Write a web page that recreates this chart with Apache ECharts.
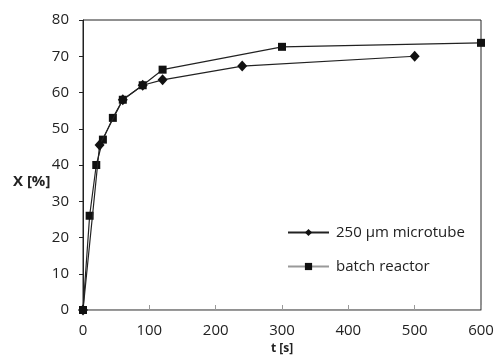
<!DOCTYPE html>
<html>
<head>
<meta charset="utf-8">
<script src="https://cdn.jsdelivr.net/npm/echarts@6/dist/echarts.min.js"></script>
<style>
  html, body { margin: 0; padding: 0; background: #fff; }
  #chart { width: 495px; height: 355px; }
</style>
</head>
<body>
<div id="chart"></div>
<script>
// Conversion X [%] over time t [s]
const microtubeT = [0, 25, 60, 90, 120, 240, 500];
const microtubeX = [0, 45.5, 58, 62, 63.5, 67.3, 70];
const batchT = [0, 10, 20, 30, 45, 60, 90, 120, 300, 600];
const batchX = [0, 26, 40, 47, 53, 58, 62, 66.3, 72.6, 73.7];
const xTicks = [0, 100, 200, 300, 400, 500, 600];
const yTicks = [0, 10, 20, 30, 40, 50, 60, 70, 80];

const FONT = '"Open Sans", sans-serif';
const pair = (xs, ys) => xs.map((x, i) => [x, ys[i]]);

const chart = echarts.init(document.getElementById('chart'), null, { renderer: 'canvas' });
chart.setOption({
  animation: false,
  backgroundColor: '#fff',
  grid: {
    left: 83, right: 14, top: 20, bottom: 45, containLabel: false, outerBoundsMode: 'none',
    show: true, borderColor: '#222', borderWidth: 1, backgroundColor: 'transparent'
  },
  legend: {
    orient: 'vertical',
    left: 282, top: 220,
    itemGap: 19,
    itemWidth: 41, itemHeight: 9,
    textStyle: { fontFamily: FONT, fontSize: 15, color: '#222', padding: [0, 0, 0, 2] },
    data: [
      { name: '250 µm microtube', lineStyle: { color: '#222' } },
      { name: 'batch reactor', lineStyle: { color: '#999' } }
    ]
  },
  graphic: [{
    type: 'text', left: 13, top: 174,
    style: { text: 'X [%]', font: 'bold 15px "Open Sans", sans-serif', fill: '#222' }
  }],
  xAxis: {
    type: 'value', min: xTicks[0], max: xTicks[xTicks.length - 1], interval: 100,
    name: 't [s]', nameLocation: 'middle', nameGap: 32,
    nameTextStyle: { fontFamily: FONT, fontSize: 12, fontWeight: 'bold', color: '#222' },
    axisLine: { onZero: false, lineStyle: { color: '#9a9a9a', width: 1 } },
    axisTick: { inside: true, length: 5, lineStyle: { color: '#9a9a9a' } },
    axisLabel: { fontFamily: FONT, fontSize: 15, color: '#222', margin: 13 },
    splitLine: { show: false }
  },
  yAxis: {
    type: 'value', min: yTicks[0], max: yTicks[yTicks.length - 1], interval: 10,
    axisLine: { show: true, onZero: false, lineStyle: { color: '#222', width: 1 } },
    axisTick: { show: true, length: 4, lineStyle: { color: '#222' } },
    axisLabel: { fontFamily: FONT, fontSize: 15, color: '#222', margin: 14 },
    splitLine: { show: false }
  },
  series: [{
    name: '250 µm microtube', type: 'line',
    data: pair(microtubeT, microtubeX),
    symbol: 'diamond', symbolSize: [10, 11],
    lineStyle: { color: '#222', width: 1.2 },
    itemStyle: { color: '#111' },
    z: 3
  }, {
    name: 'batch reactor', type: 'line',
    data: pair(batchT, batchX),
    symbol: 'rect', symbolSize: 8,
    lineStyle: { color: '#222', width: 1.2 },
    itemStyle: { color: '#111' },
    z: 2
  }]
});
</script>
</body>
</html>
